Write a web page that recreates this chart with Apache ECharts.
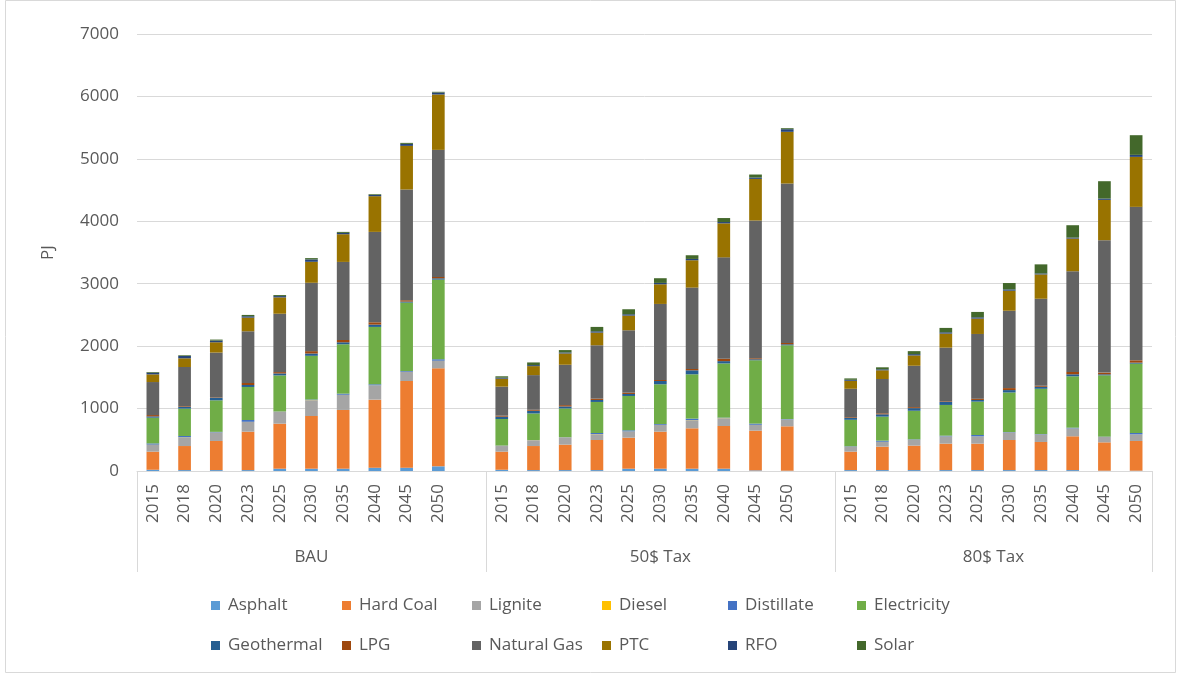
<!DOCTYPE html>
<html>
<head>
<meta charset="utf-8">
<script src="https://cdn.jsdelivr.net/npm/echarts@6/dist/echarts.min.js"></script>
<style>
html,body{margin:0;padding:0;background:#fff;}
#chart{width:1178px;height:675px;}
</style>
</head>
<body>
<div id="chart"></div>
<script>
// Categories
const groups = ['BAU', '50$ Tax', '80$ Tax'];
const years = ['2015','2018','2020','2023','2025','2030','2035','2040','2045','2050'];
const yTicks = [0,1000,2000,3000,4000,5000,6000,7000];

// Series values (PJ): BAU (10), 50$ Tax (10), 80$ Tax (10)
const asphalt     = [20,15,15,15,37,37,37,53,53,75,   20,15,15,15,37,37,37,37,10,5,   15,15,15,15,15,15,15,15,5,5];
const hardCoal    = [290,385,466,615,721,844,941,1090,1389,1570,  290,385,407,482,497,593,647,684,636,711,  295,375,391,423,423,482,450,541,454,476];
const lignite     = [107,134,133,155,188,251,240,225,145,118,  90,91,112,91,96,107,128,123,91,112,  75,75,91,112,112,117,117,122,86,107];
const diesel      = [5,5,3,3,3,3,3,3,3,3,  3,3,3,3,3,3,3,3,3,0,  3,3,3,3,3,3,3,3,0,0];
const distillate  = [20,22,10,29,5,10,18,18,13,24,  5,3,5,18,19,13,24,8,19,5,  8,18,8,13,24,8,8,13,5,21];
const electricity = [412,438,505,529,577,700,791,919,1095,1276,  425,425,460,497,550,636,710,868,1015,1181,  424,385,457,492,534,633,724,823,983,1111];
const geothermal  = [21,32,37,32,32,37,32,37,16,21,  37,43,32,32,32,53,64,37,16,16,  32,37,42,48,27,38,32,32,16,16];
const lpg         = [21,10,8,32,21,38,37,37,21,22,  16,16,21,21,21,16,22,38,16,21,  11,16,16,10,21,32,16,38,27,37];
const naturalGas  = [529,625,720,828,935,1095,1250,1448,1774,2035,  465,555,647,855,999,1218,1303,1624,2206,2554,  454,550,663,860,1036,1239,1394,1613,2121,2458];
const ptc         = [123,139,165,219,262,336,444,572,699,887,  128,144,181,203,235,315,438,545,667,828,  128,139,165,225,246,321,390,523,646,801];
const rfo         = [27,37,27,22,21,38,21,21,32,32,  16,16,16,21,22,22,21,21,22,42,  16,16,21,21,21,21,16,16,21,32];
const solar       = [11,11,16,21,16,21,16,11,16,11,  22,43,38,70,80,75,59,64,48,16,  22,32,48,70,86,102,145,198,278,315];

const seriesNames = ['Asphalt','Hard Coal','Lignite','Diesel','Distillate','Electricity','Geothermal','LPG','Natural Gas','PTC','RFO','Solar'];
const seriesData = [asphalt,hardCoal,lignite,diesel,distillate,electricity,geothermal,lpg,naturalGas,ptc,rfo,solar];
const colors = ['#5B9BD5','#ED7D31','#A5A5A5','#FFC000','#4472C4','#70AD47','#255E91','#9E480E','#636363','#997300','#264478','#43682B'];

// Build category axis with an empty slot between groups
const cats = [];
groups.forEach((g, gi) => {
  years.forEach(y => cats.push(y));
  if (gi < groups.length - 1) cats.push('');
});
function withGaps(arr) {
  const out = [];
  for (let gi = 0; gi < groups.length; gi++) {
    for (let i = 0; i < years.length; i++) out.push(arr[gi * years.length + i]);
    if (gi < groups.length - 1) out.push('-');
  }
  return out;
}
// group boundaries and centres in category units
const bounds = [0, 11, 22, 32];
const centres = [5.5, 16.5, 27];

const textColor = '#595959';
const fontFamily = '"Open Sans", "Liberation Sans", sans-serif';

const chart = echarts.init(document.getElementById('chart'), null, {renderer: 'canvas'});

// one legend component per entry, laid out in a fixed 6-column grid
const legendCols = [211, 342, 472, 602, 728, 857];
const legendRows = [597, 637];
const legends = seriesNames.map((n, i) => ({
  data: [n],
  left: legendCols[i % 6],
  top: legendRows[Math.floor(i / 6)],
  padding: 0,
  itemWidth: 9,
  itemHeight: 9,
  itemGap: 0,
  icon: 'rect',
  selectedMode: false,
  textStyle: {color: textColor, fontSize: 17, fontFamily: fontFamily, padding: [0,0,0,3]}
}));

chart.setOption({
  animation: false,
  backgroundColor: '#fff',
  color: colors,
  textStyle: {fontFamily: fontFamily},
  grid: {left: 137, right: 26, top: 34, bottom: 204, containLabel: false},
  legend: legends,
  xAxis: [
    {
      type: 'category',
      data: cats,
      position: 'bottom',
      axisLine: {lineStyle: {color: '#d9d9d9', width: 1}},
      axisTick: {show: false},
      axisLabel: {interval: 0, rotate: 90, margin: 13, color: textColor, fontSize: 17, fontFamily: fontFamily},
      splitLine: {show: false}
    },
    {
      type: 'value',
      min: 0,
      max: 32,
      position: 'bottom',
      axisLine: {show: false},
      splitLine: {show: false},
      axisTick: {show: true, customValues: bounds, length: 101, lineStyle: {color: '#d9d9d9', width: 1}},
      axisLabel: {
        show: true,
        customValues: centres,
        margin: 78,
        color: textColor,
        fontSize: 17,
        fontFamily: fontFamily,
        formatter: function (v) { return groups[centres.indexOf(v)] || ''; }
      }
    }
  ],
  yAxis: {
    type: 'value',
    min: yTicks[0],
    max: yTicks[yTicks.length - 1],
    interval: 1000,
    name: 'PJ',
    nameLocation: 'middle',
    nameGap: 80,
    nameRotate: 90,
    nameTextStyle: {color: textColor, fontSize: 17, fontFamily: fontFamily},
    axisLine: {show: false},
    axisTick: {show: false},
    axisLabel: {color: textColor, fontSize: 17, margin: 18, fontFamily: fontFamily,
      formatter: function (v) { return String(v); }},
    splitLine: {lineStyle: {color: '#d9d9d9', width: 1}}
  },
  series: seriesNames.map((n, i) => ({
    name: n,
    type: 'bar',
    stack: 'total',
    xAxisIndex: 0,
    barCategoryGap: '60%',
    data: withGaps(seriesData[i]),
    itemStyle: {color: colors[i]},
    emphasis: {disabled: true}
  })),
  graphic: [{
    type: 'rect',
    shape: {x: 5.5, y: 0.5, width: 1170, height: 672},
    style: {fill: 'none', stroke: '#d9d9d9', lineWidth: 1},
    silent: true
  }]
});
</script>
</body>
</html>
